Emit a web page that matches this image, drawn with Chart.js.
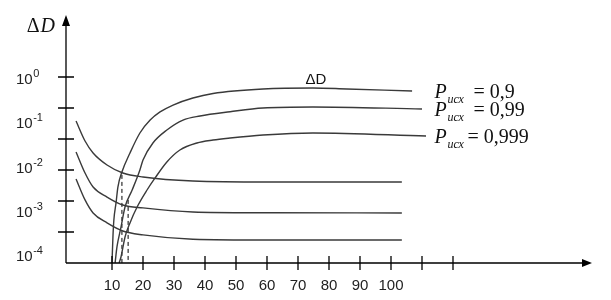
<html>
    <head>
        <title>ΔD</title>
        <style>body { margin: 0; background: #fff; }</style>
    </head>
    <body>
        <canvas class="content" width="611" height="300"></canvas>
        <script src="https://cdn.jsdelivr.net/npm/chart.js@4.4.1/dist/chart.umd.min.js"></script>
        <script>
            // axis ticks
            const xTicks = [10, 20, 30, 40, 50, 60, 70, 80, 90, 100, 110, 120]
            const xTickLabels = ['10', '20', '30', '40', '50', '60', '70', '80', '90', '100', '', '']
            const yLabelValues = [1, 0.1, 0.01, 0.001, 0.0001]
            const yLabelExps = ['0', '-1', '-2', '-3', '-4']
            const yTickMarks = [1, 2, 3, 4, 5, 6]

            // rising curves (ΔD)
            const rise09X = [10, 10.3, 10.6, 11.3, 11.9, 13.2, 15.8, 19.0, 22.3, 25.5, 29.7, 36.1, 42.6, 58.7, 74.8, 85.8, 106.8]
            const rise09Y = [0.00007, 0.000269, 0.00065, 0.00158, 0.0036, 0.0079, 0.0213, 0.0602, 0.118, 0.18, 0.258, 0.372, 0.47, 0.594, 0.627, 0.594, 0.536]
            const rise099X = [11.0, 11.6, 12.9, 14.2, 16.5, 19.0, 20.0, 23.2, 27.7, 32.9, 38.4, 48.1, 58.7, 74.8, 110]
            const rise099Y = [0.00007, 0.00016, 0.00045, 0.00128, 0.0031, 0.0088, 0.0148, 0.0358, 0.0704, 0.118, 0.146, 0.182, 0.221, 0.233, 0.21]
            const rise0999X = [12.3, 12.9, 14.2, 15.8, 18.1, 21.3, 23.9, 27.7, 31.9, 37.4, 42.6, 48.1, 58.7, 74.8, 111.3]
            const rise0999Y = [0.00007, 0.000095, 0.000269, 0.00056, 0.00128, 0.0031, 0.0058, 0.0133, 0.0248, 0.0358, 0.0418, 0.0464, 0.0542, 0.0603, 0.0515]
            const pLabels = ['0,9', '0,99', '0,999']

            // falling curves
            const fallX = [-1.6, 1.3, 3.9, 8.4, 13.5, 20, 36.1, 60, 103.5]
            const fallAY = [0.112, 0.0397, 0.0213, 0.0114, 0.0075, 0.0061, 0.00495, 0.0047, 0.0047]
            const fallBY = [0.0224, 0.0075, 0.00362, 0.00215, 0.00142, 0.00122, 0.00099, 0.00095, 0.00094]
            const fallCY = [0.0055, 0.00185, 0.00094, 0.00056, 0.000367, 0.0003, 0.00024, 0.00023, 0.00023]

            // dashed verticals
            const dashX = [13.2, 15.2]
            const dashTop = [0.0068, 0.00185]
            const yMin = 0.0000695

            function pts(xs, ys) {
                return xs.map((x, i) => ({x: x, y: ys[i]}))
            }

            const curve = (xs, ys) => ({
                data: pts(xs, ys),
                borderColor: '#3a3a3a',
                borderWidth: 1.4,
                pointRadius: 0,
                fill: false,
                cubicInterpolationMode: 'monotone'
            })

            const datasets = [
                curve(rise09X, rise09Y),
                curve(rise099X, rise099Y),
                curve(rise0999X, rise0999Y),
                curve(fallX, fallAY),
                curve(fallX, fallBY),
                curve(fallX, fallCY)
            ]
            dashX.forEach((x, i) => {
                datasets.push({
                    data: pts([x, x], [dashTop[i], yMin]),
                    borderColor: '#000',
                    borderWidth: 1,
                    borderDash: [4, 3],
                    pointRadius: 0
                })
            })

            const axesPlugin = {
                id: 'axesArt',
                afterDatasetsDraw(chart) {
                    const ctx = chart.ctx
                    const a = chart.chartArea
                    const xs = chart.scales.x
                    const ys = chart.scales.y
                    const yt = chart.scales.yt
                    ctx.save()
                    ctx.strokeStyle = '#000'
                    ctx.fillStyle = '#000'
                    ctx.lineWidth = 1.3
                    ctx.beginPath()
                    ctx.moveTo(a.left, a.bottom)
                    ctx.lineTo(a.left, a.top + 8)
                    ctx.moveTo(a.left, a.bottom)
                    ctx.lineTo(a.right - 8, a.bottom)
                    yTickMarks.forEach(v => {
                        const y = yt.getPixelForValue(v)
                        ctx.moveTo(a.left - 8, y)
                        ctx.lineTo(a.left + 8, y)
                    })
                    xTicks.forEach(v => {
                        const x = xs.getPixelForValue(v)
                        ctx.moveTo(x, a.bottom - 7)
                        ctx.lineTo(x, a.bottom + 7)
                    })
                    ctx.stroke()
                    ctx.beginPath()
                    ctx.moveTo(a.left, a.top)
                    ctx.lineTo(a.left - 4, a.top + 11)
                    ctx.lineTo(a.left + 4, a.top + 11)
                    ctx.closePath()
                    ctx.moveTo(a.right, a.bottom)
                    ctx.lineTo(a.right - 10, a.bottom - 4)
                    ctx.lineTo(a.right - 10, a.bottom + 4)
                    ctx.closePath()
                    ctx.fill()

                    // y labels 10^n
                    ctx.fillStyle = '#222'
                    ctx.textBaseline = 'middle'
                    yLabelValues.forEach((v, i) => {
                        const y = ys.getPixelForValue(v)
                        const x = a.left - 50
                        ctx.font = '15px "Liberation Sans"'
                        ctx.fillText('10', x, y + 1)
                        const w = ctx.measureText('10').width
                        ctx.font = '11px "Liberation Sans"'
                        ctx.fillText(yLabelExps[i], x + w + 0.5, y - 5)
                    })

                    // axis title
                    ctx.fillStyle = '#111'
                    ctx.font = 'italic 20px "Liberation Serif"'
                    const dW = ctx.measureText('D').width
                    ctx.fillText('D', a.left - 11 - dW, a.top + 12)
                    ctx.font = '20px "Liberation Serif"'
                    const tW = ctx.measureText('Δ').width
                    ctx.fillText('Δ', a.left - 11 - dW - tW - 1, a.top + 12)

                    // ΔD label over top curve
                    ctx.font = '15px "Liberation Sans"'
                    ctx.textAlign = 'center'
                    ctx.fillText('ΔD', xs.getPixelForValue(75.8), ys.getPixelForValue(rise09Y[14]) - 8)

                    // P labels
                    ctx.textAlign = 'left'
                    ctx.textBaseline = 'alphabetic'
                    const ends = [rise09Y, rise099Y, rise0999Y]
                    const x0 = xs.getPixelForValue(114)
                    ends.forEach((arr, i) => {
                        const y = ys.getPixelForValue(arr[arr.length - 1]) + 7
                        ctx.font = 'italic 20px "Liberation Serif"'
                        ctx.fillText('P', x0, y)
                        ctx.font = 'italic 12px "Liberation Serif"'
                        ctx.fillText('исх', x0 + 13, y + 5)
                        ctx.font = '20px "Liberation Serif"'
                        ctx.fillText('= ' + pLabels[i], x0 + (i == 2 ? 33 : 39), y)
                    })
                    ctx.restore()
                }
            }

            const canvas = document.getElementsByClassName('content')[0]
            new Chart(canvas, {
                type: 'line',
                data: {datasets: datasets},
                options: {
                    responsive: false,
                    animation: false,
                    layout: {padding: {left: 0, right: 19, top: 15, bottom: 0}},
                    plugins: {legend: {display: false}, tooltip: {enabled: false}},
                    scales: {
                        x: {
                            type: 'linear',
                            min: -4.84,
                            max: 164.84,
                            afterFit: s => {
                                s.height = 37
                                s.paddingLeft = 0
                                s.paddingRight = 0
                            },
                            afterBuildTicks: s => { s.ticks = xTicks.map(v => ({value: v})) },
                            grid: {display: false, drawTicks: false},
                            border: {display: false},
                            ticks: {
                                padding: 14,
                                color: '#222',
                                font: {family: 'Liberation Sans', size: 15},
                                maxRotation: 0,
                                autoSkip: false,
                                callback: (v, i) => xTickLabels[i]
                            }
                        },
                        y: {
                            type: 'logarithmic',
                            min: yMin,
                            max: 27.9,
                            afterFit: s => {
                                s.width = 66
                                s.paddingTop = 0
                                s.paddingBottom = 0
                            },
                            afterBuildTicks: s => { s.ticks = yLabelValues.map(v => ({value: v})) },
                            grid: {display: false, drawTicks: false},
                            border: {display: false},
                            ticks: {display: false}
                        },
                        yt: {
                            type: 'linear',
                            display: false,
                            min: 0,
                            max: 8
                        }
                    }
                },
                plugins: [axesPlugin]
            })
        </script>
    </body>
</html>
